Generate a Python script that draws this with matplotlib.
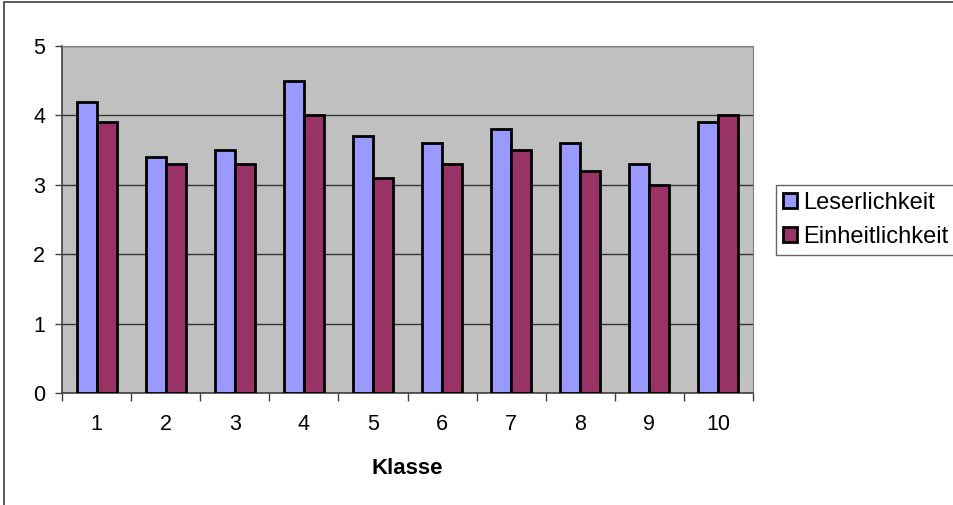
import numpy as np
import matplotlib.pyplot as plt
from matplotlib.patches import Rectangle

plt.rcParams['font.family'] = ['Liberation Sans', 'DejaVu Sans']

klassen = ['1', '2', '3', '4', '5', '6', '7', '8', '9', '10']
leserlichkeit = [4.2, 3.4, 3.5, 4.5, 3.7, 3.6, 3.8, 3.6, 3.3, 3.9]
einheitlichkeit = [3.9, 3.3, 3.3, 4.0, 3.1, 3.3, 3.5, 3.2, 3.0, 4.0]

fs = 15.5

fig = plt.figure(figsize=(9.54, 5.05), dpi=100)
# outer chart frame, only top and left edge are inside the image
fig.patches.append(Rectangle((4 / 954, -0.5), 2, 1.5 - 1.5 / 505, transform=fig.transFigure,
                             fill=False, edgecolor='#404040', linewidth=1.2))
ax = fig.add_axes([62 / 954, 1 - 393 / 505, 691 / 954, 347 / 505])
ax.set_facecolor('#c0c0c0')

x = np.arange(len(klassen))
w = 0.29
ax.bar(x - w / 2, leserlichkeit, w, color='#9999ff', edgecolor='black', linewidth=2,
       label='Leserlichkeit', zorder=3)
ax.bar(x + w / 2, einheitlichkeit, w, color='#993366', edgecolor='black', linewidth=2,
       label='Einheitlichkeit', zorder=3)

ax.set_xlim(-0.5, len(klassen) - 0.5)
ax.set_ylim(0, 5)
ax.set_yticks(range(6))
ax.yaxis.grid(True, color='#333333', linewidth=1)
ax.set_axisbelow(True)

ax.set_xticks(x)
ax.set_xticklabels(klassen)
ax.set_xticks(np.arange(-0.5, len(klassen)), minor=True)
ax.tick_params(axis='x', which='major', length=0, pad=15, labelsize=fs)
ax.tick_params(axis='x', which='minor', length=6, width=1, color='#404040')
ax.tick_params(axis='y', length=5, width=1, color='#404040', labelsize=fs, pad=7)

for s in ['top', 'right']:
    ax.spines[s].set_color('#808080')
for s in ['left', 'bottom']:
    ax.spines[s].set_color('#404040')
    ax.spines[s].set_linewidth(1.2)

ax.set_xlabel('Klasse', fontsize=fs + 0.5, fontweight='bold', labelpad=17)

leg = ax.legend(loc='center left', bbox_to_anchor=(776 / 954, 1 - 220 / 505),
                bbox_transform=fig.transFigure, fontsize=17, frameon=True, fancybox=False,
                handlelength=0.6, handleheight=0.6, handletextpad=0.25, borderpad=0.3,
                labelspacing=0.5, borderaxespad=0)
leg.get_frame().set_edgecolor('#404040')
leg.get_frame().set_linewidth(1)

fig.savefig('out.png', dpi=100)
